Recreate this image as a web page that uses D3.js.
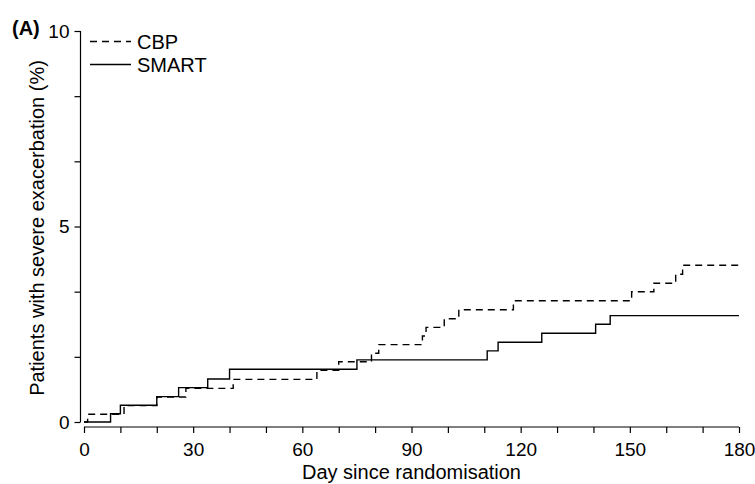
<!DOCTYPE html>
<html>
<head>
<meta charset="utf-8">
<script src="https://cdn.jsdelivr.net/npm/d3@7"></script>
<style>
  html, body { margin: 0; padding: 0; background: #fff; }
  svg text { font-family: "Liberation Sans", Arial, Helvetica, sans-serif; fill: #000; }
</style>
</head>
<body>
<div id="chart"></div>
<script>
// step curves: day of each step and % after it
const cbpDays   = [0, 1, 11, 20, 28, 41, 64, 70, 79, 81, 93, 94, 99, 103, 118, 150.5, 156.6, 162.6, 164.5, 180];
const cbpPct    = [0, 0.2, 0.42, 0.64, 0.86, 1.09, 1.32, 1.54, 1.76, 1.98, 2.2, 2.42, 2.64, 2.87, 3.1, 3.33, 3.55, 3.78, 4.01, 4.01];
const smartDays = [0, 7.3, 10, 20, 26, 34, 40, 75, 110.8, 113.8, 125.8, 140.6, 144.6, 180];
const smartPct  = [0, 0.21, 0.43, 0.65, 0.88, 1.1, 1.35, 1.59, 1.82, 2.04, 2.27, 2.5, 2.72, 2.72];

const xTicks = d3.range(0, 181, 10);
const xLabels = [0, 30, 60, 90, 120, 150, 180];
const yTicks = [0, 5 / 3, 10 / 3, 5, 20 / 3, 25 / 3, 10];
const yLabels = [0, 5, 10];

const seriesNames = ["CBP", "SMART"];

const W = 755, H = 484;
const plotL = 84, plotR = 739, plotT = 31, plotB = 422;

const svg = d3.select("#chart").append("svg")
  .attr("width", W)
  .attr("height", H);

const x = d3.scaleLinear().domain([0, 180]).range([plotL, plotR]);
const y = d3.scaleLinear().domain([0, 10]).range([plotB, plotT]);

// x axis, set a little below the plot (R style)
const xAxis = svg.append("g")
  .attr("transform", "translate(0,427)")
  .call(d3.axisBottom(x).tickValues(xTicks).tickSize(6)
    .tickFormat(d => xLabels.includes(d) ? d : ""));
xAxis.select(".domain").attr("d", `M${x(0)},0H${x(180)}`);

// y axis, set a little left of the plot
const yAxis = svg.append("g")
  .attr("transform", "translate(80.5,0)")
  .call(d3.axisLeft(y).tickValues(yTicks).tickSize(6)
    .tickFormat(d => yLabels.includes(d) ? d : ""));
yAxis.select(".domain").attr("d", `M0,${y(10)}V${y(0)}`);

svg.selectAll(".tick line, .domain")
  .attr("stroke", "#000")
  .attr("stroke-width", 1.2);
xAxis.selectAll("text").attr("font-size", 19).attr("dy", 0).attr("y", 29);
yAxis.selectAll("text").attr("font-size", 19).attr("x", -11);

// curves
const line = d3.line()
  .x(d => x(d[0]))
  .y(d => y(d[1]))
  .curve(d3.curveStepAfter);

const series = [
  { name: seriesNames[0], pts: d3.zip(cbpDays, cbpPct), dash: "7,5" },
  { name: seriesNames[1], pts: d3.zip(smartDays, smartPct), dash: null }
];

svg.append("g").selectAll("path")
  .data(series)
  .join("path")
  .attr("d", d => line(d.pts))
  .attr("fill", "none")
  .attr("stroke", "#000")
  .attr("stroke-width", 1.4)
  .attr("stroke-dasharray", d => d.dash);

// legend
const legend = svg.append("g");
series.forEach((s, i) => {
  const ly = 41.5 + i * 23;
  legend.append("line")
    .attr("x1", 90).attr("x2", 131)
    .attr("y1", ly).attr("y2", ly)
    .attr("stroke", "#000")
    .attr("stroke-width", 1.4)
    .attr("stroke-dasharray", s.dash);
  legend.append("text")
    .attr("x", 137).attr("y", ly + 7)
    .attr("font-size", 20)
    .text(s.name);
});

// titles
svg.append("text")
  .attr("x", x(90)).attr("y", 479)
  .attr("text-anchor", "middle")
  .attr("font-size", 20)
  .text("Day since randomisation");

svg.append("text")
  .attr("transform", "translate(44,228) rotate(-90)")
  .attr("text-anchor", "middle")
  .attr("font-size", 20)
  .text("Patients with severe exacerbation (%)");

svg.append("text")
  .attr("x", 12).attr("y", 35)
  .attr("font-size", 20)
  .attr("font-weight", "bold")
  .text("(A)");
</script>
</body>
</html>
